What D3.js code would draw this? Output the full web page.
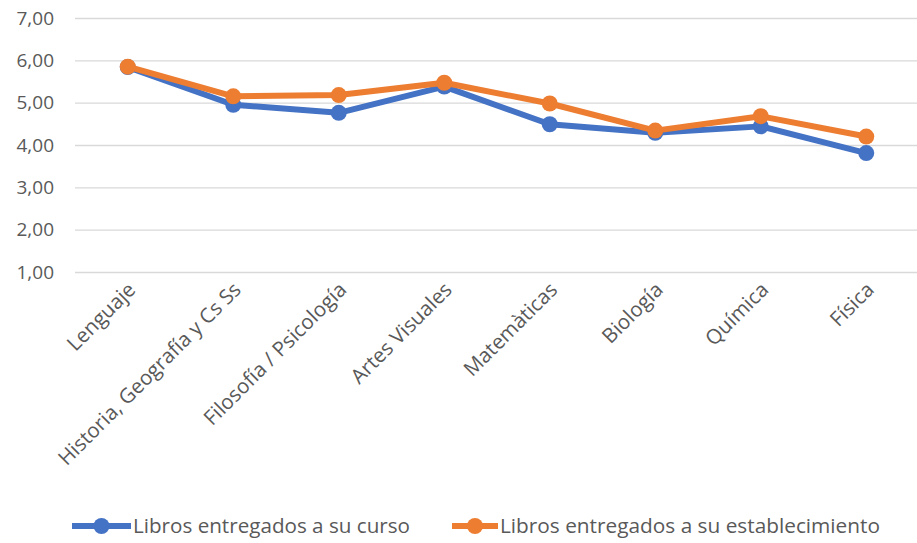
<!DOCTYPE html>
<html>
<head>
<meta charset="utf-8">
<script src="https://cdn.jsdelivr.net/npm/d3@7"></script>
<style>
  body { margin: 0; background: #fff; }
  text { font-family: "Open Sans", sans-serif; fill: #595959; }
</style>
</head>
<body>
<div id="chart"></div>
<script>
const categories = ['Lenguaje', 'Historia, Geografía y Cs Ss', 'Filosofía / Psicología', 'Artes Visuales',
                    'Matemàticas', 'Biología', 'Química', 'Física'];
const curso = [5.84, 4.95, 4.76, 5.38, 4.49, 4.29, 4.44, 3.81];
const establecimiento = [5.85, 5.15, 5.18, 5.47, 4.98, 4.34, 4.68, 4.20];
const yTicks = [1, 2, 3, 4, 5, 6, 7];
const seriesNames = ['Libros entregados a su curso', 'Libros entregados a su establecimiento'];
const colors = ['#4472C4', '#ED7D31'];

const width = 917, height = 543;
const plotLeft = 75, plotRight = 919, plotTop = 18, plotBottom = 272;

const svg = d3.select('#chart')
              .append('svg')
              .attr('width', width)
              .attr('height', height);

let x = d3.scalePoint().domain(categories).range([plotLeft, plotRight]).padding(0.5);
let y = d3.scaleLinear().domain([1, 7]).range([plotBottom, plotTop]);

// gridlines + y labels
let yAxis = d3.axisLeft(y).tickValues(yTicks)
              .tickSize(-(width - plotLeft))
              .tickFormat(d => d3.format('.2f')(d).replace('.', ','));

let yg = svg.append('g')
            .attr('transform', 'translate(' + plotLeft + ',0)')
            .call(yAxis);
yg.select('.domain').remove();
yg.selectAll('line').attr('stroke', '#d9d9d9').attr('stroke-width', 1.3);
yg.selectAll('text')
  .attr('x', -21)
  .style('font-size', '19px');

// x labels
svg.selectAll('.xlab')
   .data(categories)
   .enter()
   .append('text')
   .attr('class', 'xlab')
   .attr('transform', d => 'translate(' + (x(d) + 9) + ',' + 291 + ') rotate(-45)')
   .style('text-anchor', 'end')
   .style('font-size', '20.5px')
   .text(d => d);

let line = d3.line().x((d, i) => x(categories[i])).y(d => y(d));

[curso, establecimiento].forEach((vals, k) => {
    svg.append('path')
       .datum(vals)
       .attr('d', line)
       .attr('fill', 'none')
       .attr('stroke', colors[k])
       .attr('stroke-width', 6)
       .attr('stroke-linejoin', 'round');
    svg.selectAll('.dot' + k)
       .data(vals)
       .enter()
       .append('circle')
       .attr('class', 'dot' + k)
       .attr('cx', (d, i) => x(categories[i]))
       .attr('cy', d => y(d))
       .attr('r', 8)
       .style('fill', colors[k]);
});

// legend
const legendY = 526;
const legendItems = [{x: 72, tx: 133, w: 277}, {x: 452, tx: 500, w: 380}];
legendItems.forEach((l, k) => {
    let g = svg.append('g');
    g.append('line')
     .attr('x1', l.x).attr('x2', l.tx - 2)
     .attr('y1', legendY).attr('y2', legendY)
     .attr('stroke', colors[k]).attr('stroke-width', 6);
    g.append('circle')
     .attr('cx', (l.x + l.tx - 2) / 2).attr('cy', legendY).attr('r', 8)
     .style('fill', colors[k]);
    g.append('text')
     .attr('x', l.tx).attr('y', legendY + 7)
     .style('font-size', '20px')
     .attr('textLength', l.w)
     .attr('lengthAdjust', 'spacingAndGlyphs')
     .text(seriesNames[k]);
});
</script>
</body>
</html>
